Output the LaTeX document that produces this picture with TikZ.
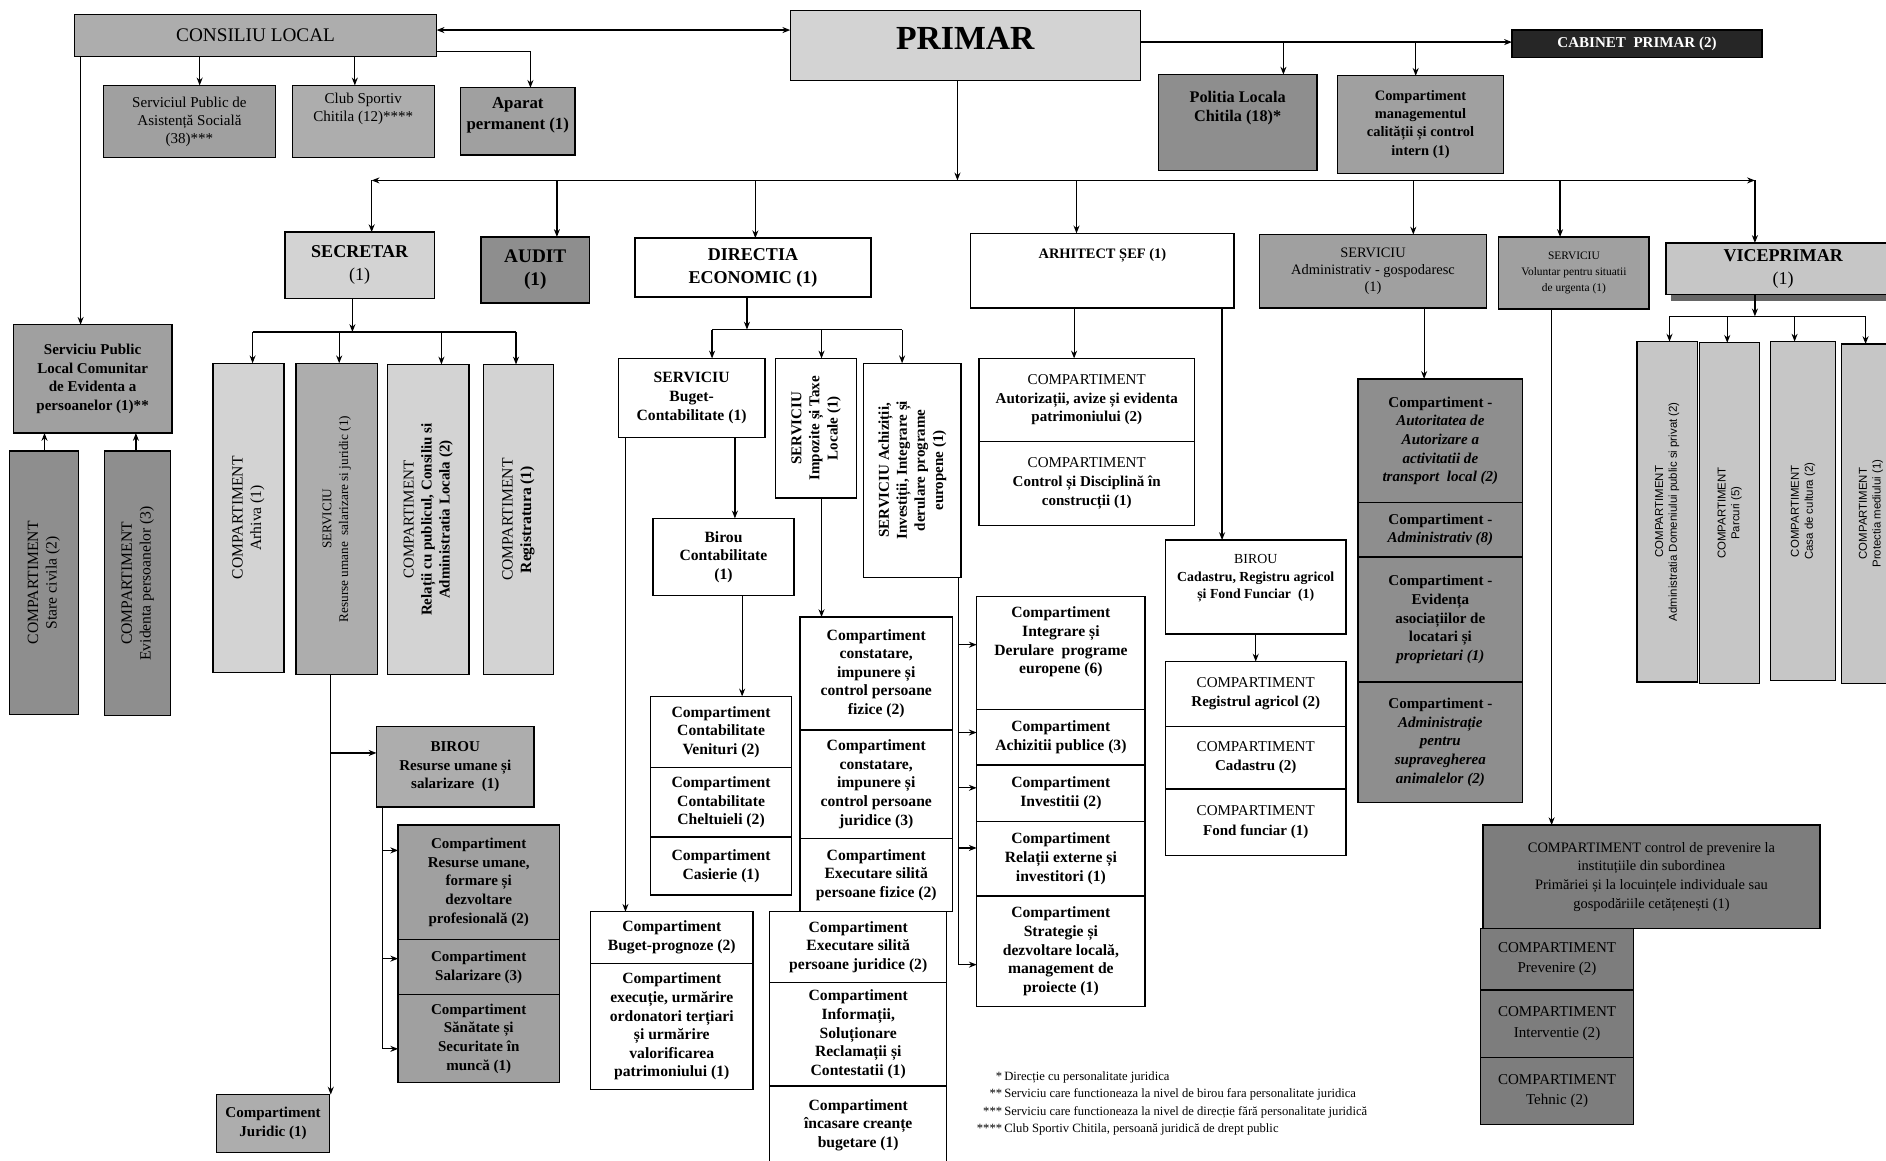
\documentclass[tikz,border=0pt]{standalone}
\usepackage{fontspec}
\setmainfont{Liberation Serif}
\newfontfamily\myarial{Liberation Sans}
\usetikzlibrary{arrows.meta}
\definecolor{gL}{HTML}{D3D3D3}
\definecolor{gV}{HTML}{C6C6C6}
\definecolor{gM}{HTML}{ADADAD}
\definecolor{gMD}{HTML}{A0A0A0}
\definecolor{gD}{HTML}{8E8E8E}
\definecolor{gX}{HTML}{7D7D7D}
\newcommand\myB{\fontsize{13}{15.5}\selectfont\bfseries}
\newcommand\myR{\fontsize{13}{15.5}\selectfont}
\newcommand\mySB{\fontsize{12}{15}\selectfont\bfseries}
\newcommand\mySR{\fontsize{12}{14.5}\selectfont}
\newcommand\myVS{\myarial\fontsize{9.5}{11.5}\selectfont}
\tikzset{
  bx/.style={draw=black, line width=1.1pt, inner sep=0pt, outer sep=0pt, align=center, font=\myB},
  rbox/.style args={#1/#2/#3/#4}{minimum width={#3-#1}, minimum height={#4-#2}, at={({(#1+#3)/2},{(#2+#4)/2})}},
  ln/.style={line width=1pt},
  vtx/.style={rotate=90, align=center, inner sep=0pt},
  tup/.style={text depth=#1},
}
\begin{document}
\begin{tikzpicture}[x=1pt, y=-1pt, >={Stealth[length=6.5pt,width=5pt]}]
\fill[white] (0,0) rectangle (1568,965);
\useasboundingbox (0,0) rectangle (1568,965);

% ---------- top row ----------
\node[bx, fill=gM, font=\fontsize{16}{19}\selectfont, rbox={62/12/363/47}] (cl) {CONSILIU LOCAL};
\node[bx, fill=gL, font=\fontsize{28}{32}\selectfont\bfseries, tup=12pt, rbox={657/9/948/67}] (pr) {PRIMAR};
\node[bx, fill=black!85, text=white, font=\fontsize{12.5}{15}\selectfont\bfseries, rbox={1257/25/1465/48}] (cab) {CABINET\ \ PRIMAR (2)};
\node[bx, fill=gD, font=\fontsize{13.5}{16}\selectfont\bfseries, tup=27pt, rbox={963/62/1095/142}] (pol) {Politia Locala\\Chitila (18)*};
\node[bx, fill=gMD, font=\mySB, rbox={1112/63/1250/144}] (cmi) {Compartiment\\managementul\\calității și control\\intern (1)};

\node[bx, fill=gMD, font=\fontsize{12.5}{15}\selectfont, rbox={86/71/229/131}] (spas) {Serviciul Public de\\Asistență Socială\\(38)***};
\node[bx, fill=gM, font=\fontsize{12.5}{15}\selectfont, tup=23pt, rbox={243/71/361/131}] (club) {Club Sportiv\\Chitila (12)****};
\node[bx, fill=gMD, font=\fontsize{14}{17}\selectfont\bfseries, tup=13pt, rbox={383/73/478/129}] (apar) {Aparat\\permanent (1)};

\node[bx, fill=gMD, font=\fontsize{12.5}{15.5}\selectfont\bfseries, rbox={11/270/143/360}] (splc) {Serviciu Public\\Local Comunitar\\de Evidenta a\\persoanelor (1)**};
\node[bx, fill=gD, rbox={8/375/65/594}] (stc) {};
\node[vtx, font=\myR] (stc-t) at (stc.center) {COMPARTIMENT\\Stare civila (2)};
\node[bx, fill=gD, rbox={87/375/142/595}] (evp) {};
\node[vtx, font=\myR] (evp-t) at (evp.center) {COMPARTIMENT\\Evidenta persoanelor (3)};

% ---------- second level ----------
\node[bx, fill=gL, font=\fontsize{15}{19}\selectfont, rbox={237/193/361/248}] (sec) {{\bfseries SECRETAR}\\(1)};
\node[bx, fill=gD, font=\fontsize{16}{19}\selectfont\bfseries, rbox={400/197/490/252}] (aud) {AUDIT\\(1)};
\node[bx, fill=white, font=\fontsize{15}{19}\selectfont\bfseries, rbox={528/198/724/247}] (dir) {DIRECTIA\\ECONOMIC (1)};
\node[bx, fill=white, font=\fontsize{12}{15}\selectfont\bfseries, tup=29pt, rbox={807/194/1026/256}] (arh) {ARHITECT ȘEF (1)};
\node[bx, fill=gMD, font=\mySR, rbox={1047/195/1236/256}] (adm) {SERVICIU\\Administrativ - gospodaresc\\(1)};
\node[bx, fill=gMD, font=\fontsize{9.5}{13}\selectfont, rbox={1246/197/1371/257}] (vol) {SERVICIU\\Voluntar pentru situatii\\de urgenta (1)};
\fill[black!60] (1389,245) rectangle (1580,250);
\node[bx, fill=gV, font=\fontsize{15}{19}\selectfont, rbox={1385/202/1580/245}] (vice) {{\bfseries VICEPRIMAR}\\(1)};

% ---------- secretar ----------
\node[bx, fill=gL, rbox={177/302/236/559}] (arv) {};
\node[vtx, font=\myR] (arv-t) at (arv.center) {COMPARTIMENT\\Arhiva (1)};
\node[bx, fill=gM, rbox={246/302/314/561}] (sru) {};
\node[vtx, font=\fontsize{11}{14}\selectfont] (sru-t) at (sru.center) {SERVICIU\\Resurse umane \ salarizare si juridic (1)};
\node[bx, fill=gL, rbox={322/303/390/561}] (rel) {};
\node[vtx, font=\fontsize{12.5}{15}\selectfont] (rel-t) at (rel.center) {COMPARTIMENT\\{\bfseries Relații cu publicul, Consiliu si}\\{\bfseries Administratia Locala (2)}};
\node[bx, fill=gL, rbox={402/303/460/561}] (reg) {};
\node[vtx, font=\myR] (reg-t) at (reg.center) {COMPARTIMENT\\{\bfseries Registratura (1)}};

\node[bx, fill=gM, font=\fontsize{12.5}{15.5}\selectfont\bfseries, rbox={313/604/444/671}] (biru) {BIROU\\Resurse umane și\\salarizare \ (1)};
\node[bx, fill=gMD, font=\fontsize{12.5}{15.5}\selectfont\bfseries, rbox={331/686/465/781}] (rf) {Compartiment\\Resurse umane,\\formare și\\dezvoltare\\profesională (2)};
\node[bx, fill=gMD, font=\fontsize{12.5}{15.5}\selectfont\bfseries, rbox={331/781/465/827}] (rs) {Compartiment\\Salarizare (3)};
\node[bx, fill=gMD, font=\fontsize{12.5}{15.5}\selectfont\bfseries, rbox={331/827/465/900}] (rsm) {Compartiment\\Sănătate și\\Securitate în\\muncă (1)};
\node[bx, fill=gM, font=\fontsize{12.5}{15.5}\selectfont\bfseries, rbox={180/910/274/958}] (jur) {Compartiment\\Juridic (1)};

% ---------- directia economica ----------
\node[bx, rbox={514/298/636/364}] (sbc) {SERVICIU\\Buget-\\Contabilitate (1)};
\node[bx, rbox={645/298/712/414}] (imp) {};
\node[vtx, font=\fontsize{12.5}{15}\selectfont\bfseries] (imp-t) at (imp.center) {SERVICIU\\Impozite și Taxe\\Locale (1)};
\node[bx, rbox={718/302/799/480}] (ach) {};
\node[vtx, font=\fontsize{12.5}{15}\selectfont\bfseries] (ach-t) at (ach.center) {SERVICIU Achiziții,\\Investiții, Integrare și\\derulare programe\\europene (1)};
\node[bx, rbox={543/431/660/495}] (bir) {Birou\\Contabilitate\\(1)};
\node[bx, rbox={541/579/658/638}] (cv) {Compartiment\\Contabilitate\\Venituri (2)};
\node[bx, rbox={541/638/658/696}] (cc) {Compartiment\\Contabilitate\\Cheltuieli (2)};
\node[bx, rbox={541/696/658/744}] (cas) {Compartiment\\Casierie (1)};
\node[bx, rbox={491/758/626/801}] (bpg) {Compartiment\\Buget-prognoze (2)};
\node[bx, rbox={491/801/626/906}] (cex) {Compartiment\\execuție, urmărire\\ordonatori terțiari\\și urmărire\\valorificarea\\patrimoniului (1)};
\node[bx, rbox={665/513/792/607}] (cf) {Compartiment\\constatare,\\impunere și\\control persoane\\fizice (2)};
\node[bx, rbox={665/607/792/697}] (cj) {Compartiment\\constatare,\\impunere și\\control persoane\\juridice (3)};
\node[bx, rbox={665/697/792/758}] (esf) {Compartiment\\Executare silită\\persoane fizice (2)};
\node[bx, rbox={640/758/787/817}] (esj) {Compartiment\\Executare silită\\persoane juridice (2)};
\node[bx, rbox={640/817/787/903}] (isr) {Compartiment\\Informații,\\Soluționare\\Reclamații și\\Contestatii (1)};
\node[bx, rbox={640/903/787/968}] (inc) {Compartiment\\încasare creanțe\\bugetare (1)};

\node[bx, tup=21pt, rbox={812/496/952/590}] (ide) {Compartiment\\Integrare și\\Derulare \ programe\\europene (6)};
\node[bx, rbox={812/590/952/636}] (acp) {Compartiment\\Achizitii publice (3)};
\node[bx, rbox={812/636/952/683}] (inv) {Compartiment\\Investitii (2)};
\node[bx, rbox={812/683/952/745}] (rex) {Compartiment\\Relații externe și\\investitori (1)};
\node[bx, rbox={812/745/952/837}] (str) {Compartiment\\Strategie și\\dezvoltare locală,\\management de\\proiecte (1)};

% ---------- arhitect ----------
\node[bx, font=\fontsize{12.5}{15.5}\selectfont, rbox={814/298/993/367}] (aav) {COMPARTIMENT\\{\bfseries Autorizații, avize și evidenta}\\{\bfseries patrimoniului (2)}};
\node[bx, font=\fontsize{12.5}{15.5}\selectfont, rbox={814/367/993/437}] (cdc) {COMPARTIMENT\\{\bfseries Control și Disciplină în}\\{\bfseries construcții (1)}};
\node[bx, font=\fontsize{11.5}{14.5}\selectfont, tup=17pt, rbox={969/449/1119/527}] (bcad) {BIROU\\{\bfseries Cadastru, Registru agricol}\\{\bfseries și Fond Funciar \ (1)}};
\node[bx, font=\fontsize{12.5}{16}\selectfont, rbox={969/550/1119/604}] (rag) {COMPARTIMENT\\{\bfseries Registrul agricol (2)}};
\node[bx, font=\fontsize{12.5}{16}\selectfont, rbox={969/604/1119/656}] (cad) {COMPARTIMENT\\{\bfseries Cadastru (2)}};
\node[bx, font=\fontsize{12.5}{16}\selectfont, rbox={969/656/1119/711}] (ffn) {COMPARTIMENT\\{\bfseries Fond funciar (1)}};

% ---------- administrativ ----------
\node[bx, fill=gD, font=\fontsize{12.5}{15.5}\selectfont\bfseries, rbox={1129/315/1266/418}] (a1) {Compartiment -\\\textit{Autoritatea de}\\\textit{Autorizare a}\\\textit{activitatii de}\\\textit{transport \ local (2)}};
\node[bx, fill=gD, font=\fontsize{12.5}{15.5}\selectfont\bfseries, rbox={1129/418/1266/463}] (a2) {Compartiment -\\\textit{Administrativ (8)}};
\node[bx, fill=gD, font=\fontsize{12.5}{15.5}\selectfont\bfseries, rbox={1129/463/1266/567}] (a3) {Compartiment -\\Evidența\\asociațiilor de\\locatari și\\\textit{proprietari (1)}};
\node[bx, fill=gD, font=\fontsize{12.5}{15.5}\selectfont\bfseries, rbox={1129/567/1266/667}] (a4) {Compartiment -\\\textit{Administrație}\\\textit{pentru}\\\textit{supravegherea}\\\textit{animalelor (2)}};

% ---------- voluntar ----------
\node[bx, fill=gX, font=\fontsize{12}{15.5}\selectfont, rbox={1233/686/1513/772}] (vc) {COMPARTIMENT control de prevenire la\\instituțiile din subordinea\\Primăriei și la locuințele individuale sau\\gospodăriile cetățenești (1)};
\node[bx, fill=gX, font=\fontsize{12.5}{17}\selectfont, rbox={1231/772/1358/823}] (vcp) {COMPARTIMENT\\Prevenire (2)};
\node[bx, fill=gX, font=\fontsize{12.5}{17}\selectfont, rbox={1231/823/1358/879}] (vci) {COMPARTIMENT\\Interventie (2)};
\node[bx, fill=gX, font=\fontsize{12.5}{17}\selectfont, rbox={1231/879/1358/935}] (vct) {COMPARTIMENT\\Tehnic (2)};

% ---------- viceprimar ----------
\node[bx, fill=gV, rbox={1361/284/1411/567}] (v1) {};
\node[vtx, font=\myVS] (v1-t) at (v1.center) {COMPARTIMENT\\Administratia Domeniului public si privat (2)};
\node[bx, fill=gV, rbox={1413/285/1463/568}] (v2) {};
\node[vtx, font=\myVS] (v2-t) at (v2.center) {COMPARTIMENT\\Parcuri (5)};
\node[bx, fill=gV, rbox={1472/284/1526/566}] (v3) {};
\node[vtx, font=\myVS] (v3-t) at (v3.center) {COMPARTIMENT\\Casa de cultura (2)};
\node[bx, fill=gV, rbox={1531/286/1580/568}] (v4) {};
\node[vtx, font=\myVS] (v4-t) at (v4.center) {COMPARTIMENT\\Protectia mediului (1)};

% ---------- footnotes ----------
\node[anchor=north west, inner sep=0pt, font=\fontsize{10.5}{14.5}\selectfont] (fn) at (812,888) {\begin{tabular}{@{}r@{\,}l@{}}
{*}&Direcție cu personalitate juridica\\
{**}&Serviciu care functioneaza la nivel de birou fara personalitate juridica\\
{***}&Serviciu care functioneaza la nivel de direcție fără personalitate juridică\\
{****}&Club Sportiv Chitila, persoană juridică de drept public
\end{tabular}};

% ---------- connectors ----------
\coordinate (y25) at (0,25);
\coordinate (y35) at (0,35);
\draw[ln,<->] (cl.east |- y25) -- (pr.west |- y25);
\draw[ln,->] (pr.east |- y35) -- (cab.west |- y35);
\coordinate (cpol) at (1067,35);
\coordinate (ccmi) at (1177,35);
\draw[ln,->] (cpol) -- (cpol |- pol.north);
\draw[ln,->] (ccmi) -- (ccmi |- cmi.north);

\coordinate (cspas) at (166,0);
\coordinate (cclub) at (295,0);
\coordinate (capar) at (441,43);
\coordinate (csplc) at (67,0);
\draw[ln,->] (cspas |- cl.south) -- (cspas |- spas.north);
\draw[ln,->] (cclub |- cl.south) -- (cclub |- club.north);
\draw[ln,->] (cl.east |- capar) -- (capar) -- (capar |- apar.north);
\draw[ln,->] (csplc |- cl.south) -- (csplc |- splc.north);
\coordinate (cstc) at (37,0);
\coordinate (cevp) at (113,0);
\draw[ln,->] (cstc |- stc.north) -- (cstc |- splc.south);
\draw[ln,->] (cevp |- evp.north) -- (cevp |- splc.south);

% main bus
\coordinate (bm) at (796,150);
\coordinate (bl) at (309,150);
\coordinate (br) at (1459,150);
\draw[ln,->] (bm |- pr.south) -- (bm);
\draw[ln,->] (bm) -- (bl);
\draw[ln,->] (bm) -- (br);
\draw[ln,->] (bl) -- (bl |- sec.north);
\draw[ln,->] (br) -- (br |- vice.north);
\coordinate (baud) at (463,150);
\coordinate (bdir) at (628,150);
\coordinate (barh) at (895,150);
\coordinate (badm) at (1175,150);
\coordinate (bvol) at (1297,150);
\draw[ln,->] (baud) -- (baud |- aud.north);
\draw[ln,->] (bdir) -- (bdir |- dir.north);
\draw[ln,->] (barh) -- (barh |- arh.north);
\draw[ln,->] (badm) -- (badm |- adm.north);
\draw[ln,->] (bvol) -- (bvol |- vol.north);

% secretar bus
\coordinate (sb) at (293,276);
\coordinate (sb1) at (210,276);
\coordinate (sb2) at (282,276);
\coordinate (sb3) at (367,276);
\coordinate (sb4) at (429,276);
\draw[ln,->] (sb |- sec.south) -- (sb);
\draw[ln] (sb1) -- (sb4);
\draw[ln,->] (sb1) -- (sb1 |- arv.north);
\draw[ln,->] (sb2) -- (sb2 |- sru.north);
\draw[ln,->] (sb3) -- (sb3 |- rel.north);
\draw[ln,->] (sb4) -- (sb4 |- reg.north);

% resurse umane
\coordinate (ru) at (275,0);
\coordinate (ru1) at (275,626);
\draw[ln,->] (ru |- sru.south) -- (ru |- jur.north);
\draw[ln,->] (ru1) -- (ru1 -| biru.west);
\coordinate (rg) at (318,0);
\coordinate (rg1) at (318,707);
\coordinate (rg2) at (318,797);
\coordinate (rg3) at (318,872);
\draw[ln] (rg |- biru.south) -- (rg3);
\draw[ln,->] (rg1) -- (rg1 -| rf.west);
\draw[ln,->] (rg2) -- (rg2 -| rs.west);
\draw[ln,->] (rg3) -- (rg3 -| rsm.west);

% directia bus
\coordinate (db) at (621,274);
\coordinate (db1) at (592,274);
\coordinate (db2) at (683,274);
\coordinate (db3) at (750,274);
\draw[ln,->] (db |- dir.south) -- (db);
\draw[ln] (db1) -- (db3);
\draw[ln,->] (db1) -- (db1 |- sbc.north);
\draw[ln,->] (db2) -- (db2 |- imp.north);
\draw[ln,->] (db3) -- (db3 |- ach.north);

\coordinate (s1) at (611,0);
\coordinate (s2) at (520,0);
\coordinate (s3) at (617,0);
\coordinate (s4) at (683,0);
\draw[ln,->] (s1 |- sbc.south) -- (s1 |- bir.north);
\draw[ln,->] (s2 |- sbc.south) -- (s2 |- bpg.north);
\draw[ln,->] (s3 |- bir.south) -- (s3 |- cv.north);
\draw[ln,->] (s4 |- imp.south) -- (s4 |- cf.north);

\coordinate (ag) at (797,0);
\coordinate (ag1) at (797,536);
\coordinate (ag2) at (797,609);
\coordinate (ag3) at (797,655);
\coordinate (ag4) at (797,705);
\coordinate (ag5) at (797,802);
\draw[ln] (ag |- ach.south) -- (ag5);
\draw[ln,->] (ag1) -- (ag1 -| ide.west);
\draw[ln,->] (ag2) -- (ag2 -| acp.west);
\draw[ln,->] (ag3) -- (ag3 -| inv.west);
\draw[ln,->] (ag4) -- (ag4 -| rex.west);
\draw[ln,->] (ag5) -- (ag5 -| str.west);

% arhitect
\coordinate (h1) at (893,0);
\coordinate (h2) at (1016,0);
\coordinate (h3) at (1044,0);
\draw[ln,->] (h1 |- arh.south) -- (h1 |- aav.north);
\draw[ln,->] (h2 |- arh.south) -- (h2 |- bcad.north);
\draw[ln,->] (h3 |- bcad.south) -- (h3 |- rag.north);

% administrativ, voluntar
\coordinate (m1) at (1184,0);
\coordinate (o1) at (1290,0);
\draw[ln,->] (m1 |- adm.south) -- (m1 |- a1.north);
\draw[ln,->] (o1 |- vol.south) -- (o1 |- vc.north);

% viceprimar bus
\coordinate (vb) at (1459,263);
\coordinate (vb1) at (1388,263);
\coordinate (vb2) at (1436,263);
\coordinate (vb3) at (1492,263);
\coordinate (vb4) at (1551,263);
\draw[ln,->] (vb |- vice.south) -- (vb);
\draw[ln] (vb1) -- (vb4);
\draw[ln,->] (vb1) -- (vb1 |- v1.north);
\draw[ln,->] (vb2) -- (vb2 |- v2.north);
\draw[ln,->] (vb3) -- (vb3 |- v3.north);
\draw[ln,->] (vb4) -- (vb4 |- v4.north);
\end{tikzpicture}
\end{document}
